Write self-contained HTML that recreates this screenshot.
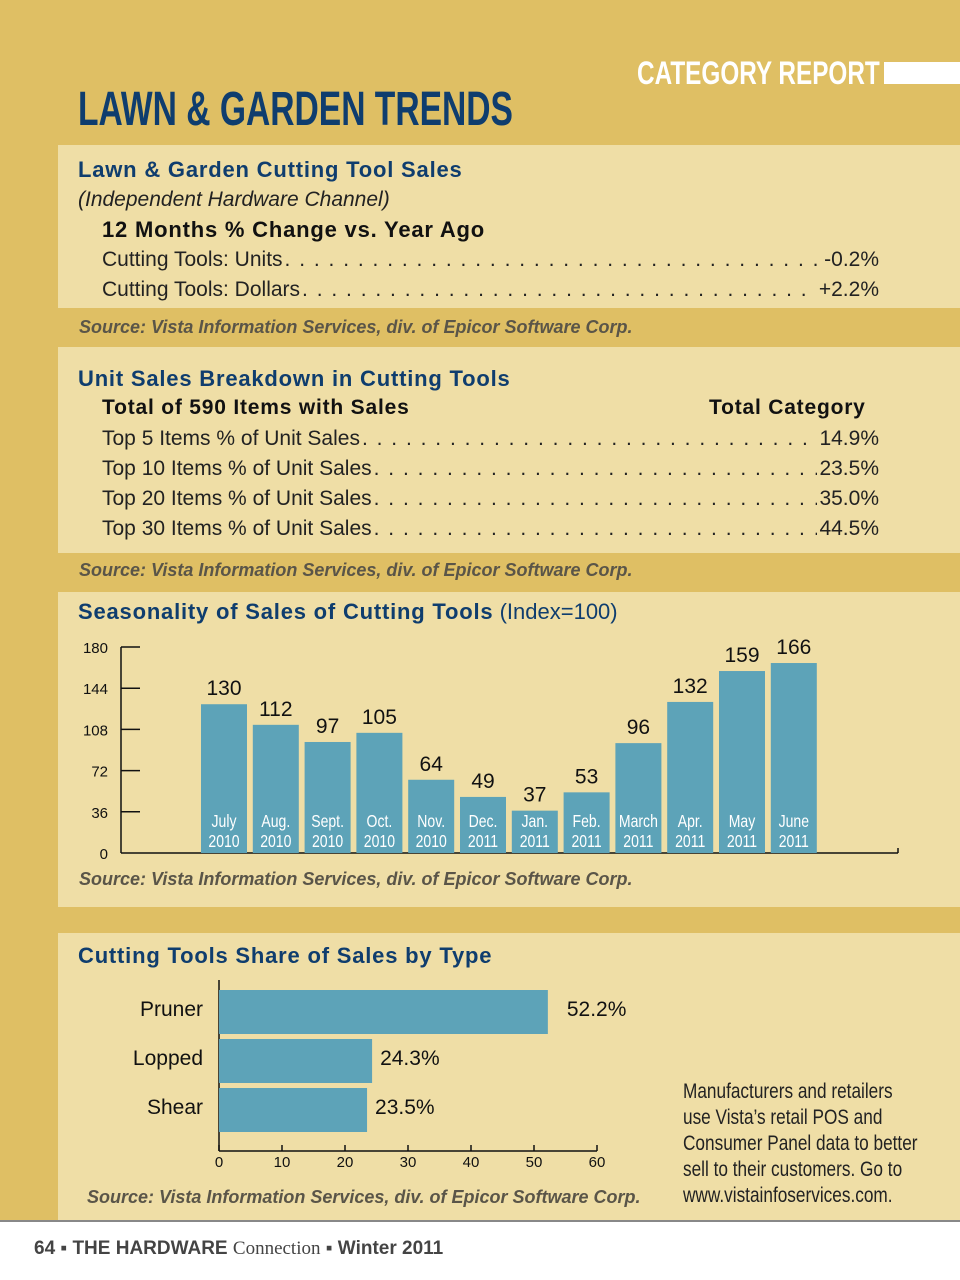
<!DOCTYPE html>
<html><head><meta charset="utf-8">
<style>
*{margin:0;padding:0;box-sizing:border-box}
body{width:960px;height:1280px;position:relative;background:#fff;font-family:"Liberation Sans",sans-serif;overflow:hidden}
.abs{position:absolute}
.gold{background:#dfbf64}
.panel{background:#efdea6}
.blue{color:#0f3d6e}
.src{font-style:italic;font-weight:bold;color:#5a5548;font-size:18px;transform:scaleX(1.0);transform-origin:left}
.row{position:absolute;left:102px;width:777px;display:flex;font-size:21px;color:#222;white-space:nowrap}
.row .dots{flex:1;overflow:hidden;letter-spacing:1.5px;margin:0 2px}
.h{font-weight:bold;font-size:22px;letter-spacing:0.8px;white-space:nowrap}
</style></head><body>
<div class="abs gold" style="left:0;top:0;width:960px;height:1221px"></div>
<div class="abs" style="left:637px;top:55px;color:#fff;font-weight:bold;font-size:32px;transform:scaleX(0.76);transform-origin:left;white-space:nowrap">CATEGORY REPORT</div>
<div class="abs" style="left:884px;top:62px;width:76px;height:22px;background:#fff"></div>
<div class="abs blue" style="left:78px;top:82px;font-weight:bold;font-size:48px;transform:scaleX(0.7);transform-origin:left;white-space:nowrap">LAWN &amp; GARDEN TRENDS</div>

<div class="abs panel" style="left:58px;top:145px;width:902px;height:163px"></div>
<div class="abs blue h" style="left:78px;top:157px">Lawn &amp; Garden Cutting Tool Sales</div>
<div class="abs" style="left:78px;top:188px;font-style:italic;font-size:21px;color:#222">(Independent Hardware Channel)</div>
<div class="abs h" style="left:102px;top:217px;color:#111">12 Months % Change vs. Year Ago</div>
<div class="row" style="top:248px"><span>Cutting Tools: Units</span><span class="dots">. . . . . . . . . . . . . . . . . . . . . . . . . . . . . . . . . . . . . . . . . . . . . . . . . . . . . . . . . . . . . . . . . . . . . . .</span><span>-0.2%</span></div>
<div class="row" style="top:278px"><span>Cutting Tools: Dollars</span><span class="dots">. . . . . . . . . . . . . . . . . . . . . . . . . . . . . . . . . . . . . . . . . . . . . . . . . . . . . . . . . . . . . . . . . . . . . . .</span><span>+2.2%</span></div>
<div class="abs src" style="left:79px;top:317px;white-space:nowrap">Source: Vista Information Services, div. of Epicor Software Corp.</div>

<div class="abs panel" style="left:58px;top:347px;width:902px;height:206px"></div>
<div class="abs blue h" style="left:78px;top:366px">Unit Sales Breakdown in Cutting Tools</div>
<div class="abs h" style="left:102px;top:396px;font-size:21px;color:#111">Total of 590 Items with Sales</div>
<div class="abs h" style="left:709px;top:396px;font-size:21px;color:#111">Total Category</div>
<div class="row" style="top:427px"><span>Top 5 Items % of Unit Sales</span><span class="dots">. . . . . . . . . . . . . . . . . . . . . . . . . . . . . . . . . . . . . . . . . . . . . . . . . . . . . . . . . . . .</span><span>14.9%</span></div>
<div class="row" style="top:457px"><span>Top 10 Items % of Unit Sales</span><span class="dots">. . . . . . . . . . . . . . . . . . . . . . . . . . . . . . . . . . . . . . . . . . . . . . . . . . . . . . . . . . . .</span><span>23.5%</span></div>
<div class="row" style="top:487px"><span>Top 20 Items % of Unit Sales</span><span class="dots">. . . . . . . . . . . . . . . . . . . . . . . . . . . . . . . . . . . . . . . . . . . . . . . . . . . . . . . . . . . .</span><span>35.0%</span></div>
<div class="row" style="top:517px"><span>Top 30 Items % of Unit Sales</span><span class="dots">. . . . . . . . . . . . . . . . . . . . . . . . . . . . . . . . . . . . . . . . . . . . . . . . . . . . . . . . . . . .</span><span>44.5%</span></div>
<div class="abs src" style="left:79px;top:560px;white-space:nowrap">Source: Vista Information Services, div. of Epicor Software Corp.</div>

<div class="abs panel" style="left:58px;top:592px;width:902px;height:315px"></div>
<div class="abs" style="left:78px;top:599px;font-size:22px;white-space:nowrap"><b class="blue" style="letter-spacing:0.8px">Seasonality of Sales of Cutting Tools</b> <span class="blue">(Index=100)</span></div>
<div class="abs src" style="left:79px;top:869px;white-space:nowrap">Source: Vista Information Services, div. of Epicor Software Corp.</div>

<div class="abs panel" style="left:58px;top:933px;width:902px;height:287px"></div>
<div class="abs blue h" style="left:78px;top:943px">Cutting Tools Share of Sales by Type</div>
<div class="abs src" style="left:87px;top:1187px;white-space:nowrap">Source: Vista Information Services, div. of Epicor Software Corp.</div>
<div class="abs" style="left:683px;top:1079px;font-size:21px;line-height:26px;color:#222;transform:scaleX(0.82);transform-origin:left;white-space:nowrap">Manufacturers and retailers<br>use Vista’s retail POS and<br>Consumer Panel data to better<br>sell to their customers. Go to<br>www.vistainfoservices.com.</div>

<div class="abs" style="left:0;top:1220px;width:960px;height:2px;background:#888"></div>
<div class="abs" style="left:34px;top:1238px;font-size:19px;color:#444;white-space:nowrap"><b>64</b> ▪ <b>THE HARDWARE</b> <span style="font-family:'Liberation Serif',serif">Connection</span> ▪ <b>Winter 2011</b></div>

<svg class="abs" id="s1" style="left:0;top:0" width="960" height="1280"></svg>

<script>
const months=["July","Aug.","Sept.","Oct.","Nov.","Dec.","Jan.","Feb.","March","Apr.","May","June"];
const years=["2010","2010","2010","2010","2010","2011","2011","2011","2011","2011","2011","2011"];
const indexValues=[130,112,97,105,64,49,37,53,96,132,159,166];
const yTicks=[0,36,72,108,144,180];
const types=["Pruner","Lopped","Shear"];
const shares=[52.2,24.3,23.5];
const xTicks=[0,10,20,30,40,50,60];

const NS="http://www.w3.org/2000/svg";
const svg=document.getElementById('s1');
function mk(tag,attrs,text){const e=document.createElementNS(NS,tag);for(const k in attrs)e.setAttribute(k,attrs[k]);if(text!==undefined)e.textContent=text;svg.appendChild(e);return e;}
const BAR="#5da3b8";
const y0=853,yTop=647,yMax=180;
const yS=v=>y0-(v/yMax)*(y0-yTop);
const xS=i=>201+i*51.8;
let e=mk('line',{x1:121,y1:yTop,x2:121,y2:y0,stroke:'#111','stroke-width':1.5});

e=mk('line',{x1:121,y1:y0,x2:898,y2:y0,stroke:'#111','stroke-width':1.5});

mk('line',{x1:898,y1:y0,x2:898,y2:y0-5,stroke:'#111','stroke-width':1.5});
yTicks.forEach(t=>{
 if(t>0){const l=mk('line',{x1:121,y1:yS(t),x2:140,y2:yS(t),stroke:'#111','stroke-width':1.5});
 }
 const tx=mk('text',{x:108,y:yS(t)+6,'text-anchor':'end','font-size':15,fill:'#111'},t);
 
});
indexValues.forEach((v,i)=>{
 const x=xS(i);
 const r=mk('rect',{x:x,y:yS(v),width:46,height:y0-yS(v),fill:BAR});
 
 const t=mk('text',{x:x+23,y:yS(v)-9,'text-anchor':'middle','font-size':21,fill:'#111'},v);
 
 const m=mk('text',{x:x+23,y:827,'text-anchor':'middle','font-size':18,fill:'#fff',transform:`translate(${x+23} 0) scale(0.78 1) translate(${-(x+23)} 0)`},months[i]);
 
 const yy=mk('text',{x:x+23,y:847,'text-anchor':'middle','font-size':18,fill:'#fff',transform:`translate(${x+23} 0) scale(0.78 1) translate(${-(x+23)} 0)`},years[i]);
 
});
const hx0=219,hx60=597;
const hS=v=>hx0+v/60*(hx60-hx0);
const rowTop=[990,1039,1088];
const hAxisY=1151;
e=mk('line',{x1:hx0,y1:980,x2:hx0,y2:hAxisY,stroke:'#111','stroke-width':1.5});

e=mk('line',{x1:hx0,y1:hAxisY,x2:hx60,y2:hAxisY,stroke:'#111','stroke-width':1.5});

xTicks.forEach(t=>{
 const l=mk('line',{x1:hS(t),y1:hAxisY,x2:hS(t),y2:hAxisY-6,stroke:'#111','stroke-width':1.5});
 
 const tx=mk('text',{x:hS(t),y:1167,'text-anchor':'middle','font-size':15,fill:'#111'},t);
 
});
shares.forEach((v,i)=>{
 const r=mk('rect',{x:hx0,y:rowTop[i],width:hS(v)-hx0,height:44,fill:BAR});
 
 const c=mk('text',{x:203,y:rowTop[i]+26,'text-anchor':'end','font-size':21,fill:'#111'},types[i]);
 
 const t=mk('text',{x:hS(v)+(i==0?19:8),y:rowTop[i]+26,'font-size':21,fill:'#111'},v.toFixed(1)+'%');
 
});
</script>
</body></html>
